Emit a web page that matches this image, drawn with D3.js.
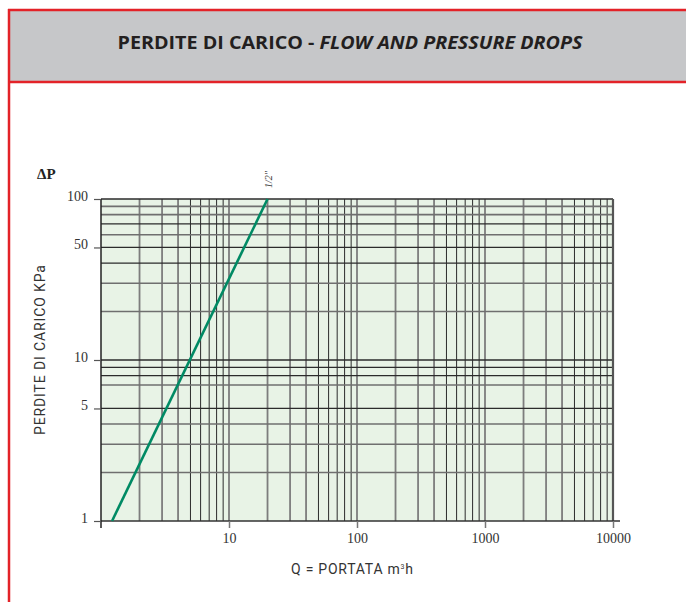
<!DOCTYPE html>
<html>
<head>
<meta charset="utf-8">
<script src="https://cdn.jsdelivr.net/npm/d3@7"></script>
<style>
  html, body { margin: 0; padding: 0; background: #fff; }
  svg { display: block; }
</style>
</head>
<body>
<svg id="chart" width="686" height="602"></svg>
<script>
// chart values
var titleMain = 'PERDITE DI CARICO - ';
var titleItalic = 'FLOW AND PRESSURE DROPS';
var xTicks = [10, 100, 1000, 10000];
var yTicks = [1, 5, 10, 50, 100];
var xGridMult = [2, 3, 4, 5, 6, 7, 8, 9, 10];
var yGridValues = [2, 3, 4, 5, 7, 8, 9, 10, 20, 30, 40, 50, 60, 70, 80, 90];
var yGridDark = [5, 8, 9, 10, 40, 50, 70];
var seriesName = '1/2"';
var seriesQ = [1.22, 20];
var seriesDP = [1, 100];

var svg = d3.select('#chart');

// frame and header
svg.append('rect').attr('x', 10).attr('y', 11).attr('width', 676).attr('height', 70).attr('fill', '#c6c7c9');
svg.append('line').attr('x1', 8).attr('x2', 686).attr('y1', 10).attr('y2', 10).attr('stroke', '#e32228').attr('stroke-width', 2.5);
svg.append('line').attr('x1', 8).attr('x2', 686).attr('y1', 82).attr('y2', 82).attr('stroke', '#e32228').attr('stroke-width', 2.5);
svg.append('line').attr('x1', 9).attr('x2', 9).attr('y1', 9).attr('y2', 602).attr('stroke', '#e32228').attr('stroke-width', 2.5);

var title = svg.append('text')
    .attr('x', 350).attr('y', 49)
    .attr('text-anchor', 'middle')
    .attr('textLength', 465)
    .attr('lengthAdjust', 'spacingAndGlyphs')
    .style('font-family', '"Open Sans", sans-serif')
    .style('font-size', '18px')
    .style('font-weight', 'bold')
    .style('fill', '#231f20');
title.append('tspan').text(titleMain);
title.append('tspan').style('font-style', 'italic').text(titleItalic);

// scales
var x = d3.scaleLog().domain([1, 10000]).range([101, 613]);
var y = d3.scaleLog().domain([1, 100]).range([521, 199]);

var g = svg.append('g');

g.append('rect')
    .attr('x', x(1)).attr('y', y(100))
    .attr('width', x(10000) - x(1)).attr('height', y(1) - y(100))
    .attr('fill', '#e8f3e6');

// vertical grid
var xGrid = [];
[1, 10, 100, 1000].forEach(function (dec) {
    xGridMult.forEach(function (m) { xGrid.push({ v: dec * m, m: m }); });
});
g.selectAll('.vgrid').data(xGrid).enter().append('line')
    .attr('class', 'vgrid')
    .attr('x1', function (d) { return x(d.v); })
    .attr('x2', function (d) { return x(d.v); })
    .attr('y1', y(100)).attr('y2', y(1))
    .attr('stroke', function (d) { return d.m >= 5 && d.m <= 9 ? '#2b2b2b' : '#7d7d7d'; })
    .attr('stroke-width', function (d) { return d.m >= 5 && d.m <= 9 ? 1 : 1.8; });

// horizontal grid
g.selectAll('.hgrid').data(yGridValues).enter().append('line')
    .attr('class', 'hgrid')
    .attr('x1', x(1)).attr('x2', x(10000))
    .attr('y1', function (d) { return y(d); })
    .attr('y2', function (d) { return y(d); })
    .attr('stroke', function (d) { return yGridDark.indexOf(d) >= 0 ? '#2b2b2b' : '#6f6f6f'; })
    .attr('stroke-width', function (d) { return yGridDark.indexOf(d) >= 0 ? 1.3 : 1.6; });

// border lines
g.append('line').attr('x1', x(1)).attr('x2', x(10000)).attr('y1', y(100)).attr('y2', y(100))
    .attr('stroke', '#2b2b2b').attr('stroke-width', 1.3);
g.append('line').attr('x1', x(10000)).attr('x2', x(10000)).attr('y1', y(100)).attr('y2', y(1))
    .attr('stroke', '#555').attr('stroke-width', 2.2);

// axes
var xAxis = d3.axisBottom(x).tickValues(xTicks).tickFormat(d3.format('d')).tickSize(7).tickPadding(5);
var yAxis = d3.axisLeft(y).tickValues(yTicks).tickFormat(d3.format('d')).tickSize(7).tickPadding(6);

var gx = svg.append('g').attr('transform', 'translate(0,' + y(1) + ')').call(xAxis);
gx.select('.domain').attr('d', 'M' + x(1) + ',0H' + (x(10000) + 7)).attr('stroke', '#333').attr('stroke-width', 1.5);
gx.selectAll('.tick line').attr('stroke', '#777').attr('stroke-width', 1.5);
gx.selectAll('.tick text').attr('fill', '#333').style('font-family', '"Liberation Serif", serif').style('font-size', '14px');

var gy = svg.append('g').attr('transform', 'translate(' + x(1) + ',0)').call(yAxis);
gy.select('.domain').attr('d', 'M0,' + y(100) + 'V' + (y(1) + 7)).attr('stroke', '#222').attr('stroke-width', 1.5);
gy.selectAll('.tick line').attr('stroke', '#555').attr('stroke-width', 1.2);
gy.selectAll('.tick text').attr('fill', '#333').attr('dy', '0.1em').style('font-family', '"Liberation Serif", serif').style('font-size', '14px');

// series line
var pts = seriesQ.map(function (q, i) { return [q, seriesDP[i]]; });
var line = d3.line().x(function (d) { return x(d[0]); }).y(function (d) { return y(d[1]); });
svg.append('path').datum(pts)
    .attr('d', line)
    .attr('fill', 'none')
    .attr('stroke', '#008a64')
    .attr('stroke-width', 2.6);

var last = pts[pts.length - 1];
svg.append('text')
    .attr('transform', 'translate(' + (x(last[0]) + 4) + ',' + (y(last[1]) - 11) + ') rotate(-90)')
    .style('font-family', '"Liberation Serif", serif')
    .style('font-style', 'italic')
    .style('font-size', '10px')
    .attr('fill', '#333')
    .text(seriesName);

// axis titles
svg.append('text')
    .attr('x', 37).attr('y', 179)
    .style('font-family', '"Liberation Serif", serif')
    .style('font-weight', 'bold')
    .style('font-size', '15px')
    .attr('fill', '#222')
    .text('\u0394P');

svg.append('text')
    .attr('transform', 'translate(45,350) rotate(-90)')
    .attr('text-anchor', 'middle')
    .attr('textLength', 170)
    .attr('lengthAdjust', 'spacing')
    .style('font-family', '"Liberation Sans Narrow", "Roboto", sans-serif')
    .style('font-size', '14px')
    .attr('fill', '#333')
    .text('PERDITE DI CARICO KPa');

var xt = svg.append('text')
    .attr('x', 352).attr('y', 574)
    .attr('text-anchor', 'middle')
    .attr('textLength', 122)
    .attr('lengthAdjust', 'spacing')
    .style('font-family', '"Liberation Sans Narrow", "Roboto", sans-serif')
    .style('font-size', '14px')
    .attr('fill', '#333');
xt.append('tspan').text('Q = PORTATA m');
xt.append('tspan').attr('dy', -5).style('font-size', '7px').text('3');
xt.append('tspan').attr('dy', 5).text('h');
</script>
</body>
</html>
